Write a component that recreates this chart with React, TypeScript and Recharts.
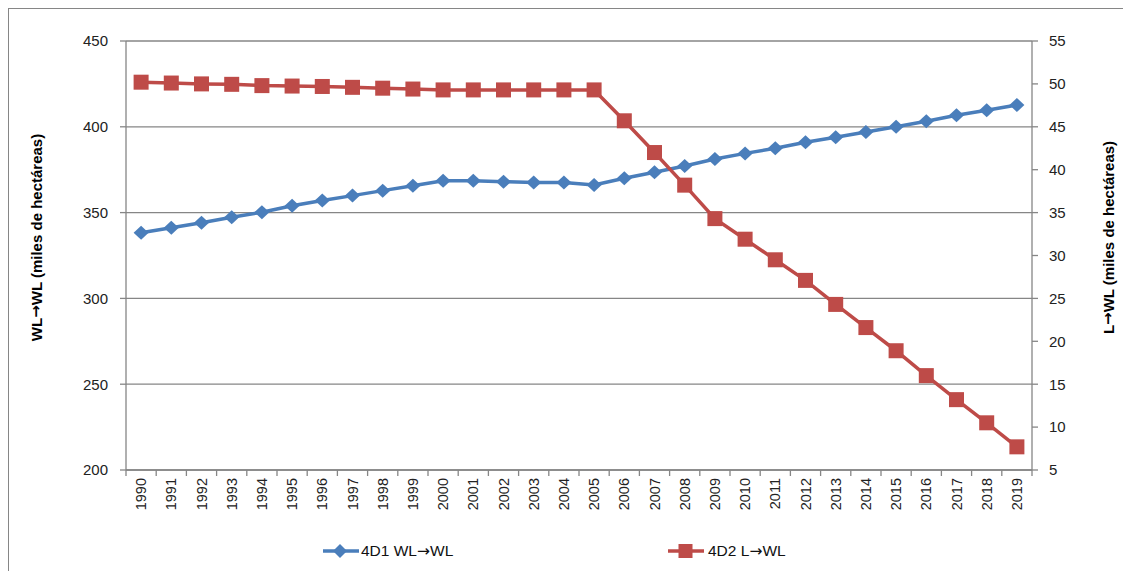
import React from "react";
import { LineChart, Line, XAxis, YAxis, CartesianGrid, Legend } from "recharts";

const years = [
  "1990", "1991", "1992", "1993", "1994", "1995", "1996", "1997", "1998", "1999",
  "2000", "2001", "2002", "2003", "2004", "2005", "2006", "2007", "2008", "2009",
  "2010", "2011", "2012", "2013", "2014", "2015", "2016", "2017", "2018", "2019",
];

// 4D1 WL->WL, left axis
const wlToWl = [
  338.2, 341.2, 344.1, 347.3, 350.2, 354.0, 357.0, 359.9, 362.8, 365.7,
  368.6, 368.6, 368.0, 367.6, 367.6, 366.1, 370.0, 373.5, 377.2, 381.2,
  384.5, 387.5, 391.0, 393.9, 397.0, 400.0, 403.2, 406.7, 409.6, 412.7,
];

// 4D2 L->WL, right axis
const lToWl = [
  50.2, 50.1, 50.0, 49.95, 49.8, 49.75, 49.7, 49.6, 49.5, 49.4,
  49.3, 49.3, 49.3, 49.3, 49.3, 49.3, 45.7, 42.0, 38.2, 34.3,
  31.9, 29.5, 27.1, 24.3, 21.6, 18.9, 16.0, 13.2, 10.5, 7.7,
];

const leftTicks = [200, 250, 300, 350, 400, 450];
const rightTicks = [5, 10, 15, 20, 25, 30, 35, 40, 45, 50, 55];

// [before arrow, after arrow]
const seriesNames = [["4D1 WL", "WL"], ["4D2 L", "WL"]];
const leftTitle = ["WL", "WL (miles de hect\u00e1reas)"];
const rightTitle = ["L", "WL (miles de hect\u00e1reas)"];

const data = years.map((year, i) => ({ year, wl: wlToWl[i], lwl: lToWl[i] }));

const BLUE = "#4A7EBB";
const RED = "#BE4B48";
const GREY = "#868686";
const FONT = "'Liberation Sans', Arial, sans-serif";
const ARROW_FONT = "'DejaVu Sans', sans-serif";

const Diamond = (props: any) => {
  const { cx, cy } = props;
  if (cx == null || cy == null) return null;
  return (
    <path
      d={`M${cx},${cy - 7} L${cx + 7.5},${cy} L${cx},${cy + 7} L${cx - 7.5},${cy} Z`}
      fill={BLUE}
    />
  );
};

const Square = (props: any) => {
  const { cx, cy } = props;
  if (cx == null || cy == null) return null;
  return <rect x={cx - 7.5} y={cy - 7.5} width={15} height={15} fill={RED} />;
};

// year label, with Excel-style tick marks between the categories
const YearTick = (props: any) => {
  const { x, y, payload, index, visibleTicksCount } = props;
  const half = payload.offset || 0;
  const top = y - 8;
  const last = index === visibleTicksCount - 1;
  return (
    <g>
      <line x1={x - half} y1={top} x2={x - half} y2={top + 6} stroke={GREY} strokeWidth={1.3} />
      {last && <line x1={x + half} y1={top} x2={x + half} y2={top + 6} stroke={GREY} strokeWidth={1.3} />}
      <text
        x={x}
        y={y}
        transform={`rotate(-90 ${x} ${y})`}
        textAnchor="end"
        dominantBaseline="central"
        fontFamily={FONT}
        fontSize={14.5}
        fill="#222"
      >
        {payload.value}
      </text>
    </g>
  );
};

const AxisTitle = ({ viewBox, value, dx }: any) => {
  const x = viewBox.x + dx;
  const y = viewBox.y + viewBox.height / 2 - 18;
  return (
    <text
      x={x}
      y={y}
      transform={`rotate(-90 ${x} ${y})`}
      textAnchor="middle"
      dominantBaseline="central"
      fontFamily={FONT}
      fontWeight="bold"
      fontSize={15}
      fill="#000"
    >
      {value[0]}
      <tspan fontFamily={ARROW_FONT}>{"\u2192"}</tspan>
      {value[1]}
    </text>
  );
};

const LegendIcon = ({ color, square }: { color: string; square?: boolean }) => (
  <svg width={36} height={16} style={{ display: "block" }}>
    <line x1={0} y1={8} x2={36} y2={8} stroke={color} strokeWidth={3.5} strokeLinecap="round" />
    {square ? (
      <rect x={10.5} y={1} width={14} height={14} fill={color} />
    ) : (
      <path d="M17,1 L24,8 L17,15 L10,8 Z" fill={color} />
    )}
  </svg>
);

const LegendText = ({ parts }: { parts: string[] }) => (
  <span>
    {parts[0]}
    <span style={{ fontFamily: ARROW_FONT }}>{"\u2192"}</span>
    {parts[1]}
  </span>
);

const ChartLegend = () => (
  <div style={{ position: "relative", width: 1122, height: 30, fontFamily: FONT, fontSize: 15.5, color: "#111" }}>
    <div style={{ position: "absolute", left: 314, top: 7, display: "flex", alignItems: "center", gap: 2 }}>
      <LegendIcon color={BLUE} />
      <LegendText parts={seriesNames[0]} />
    </div>
    <div style={{ position: "absolute", left: 659, top: 7, display: "flex", alignItems: "center", gap: 4 }}>
      <LegendIcon color={RED} square />
      <LegendText parts={seriesNames[1]} />
    </div>
  </div>
);

export default function App() {
  const tickStyle = { fontFamily: FONT, fontSize: 15, fill: "#222" };
  return (
    <div
      style={{
        width: 1123,
        height: 563,
        borderTop: `1px solid ${GREY}`,
        borderLeft: `1px solid ${GREY}`,
        background: "#fff",
      }}
    >
      <LineChart width={1122} height={561} data={data} margin={{ top: 32, right: 0, left: 37, bottom: 5 }}>
        <CartesianGrid yAxisId="left" vertical={false} stroke={GREY} strokeWidth={1.3} />
        <XAxis
          dataKey="year"
          scale="band"
          interval={0}
          tickLine={false}
          tickSize={0}
          tickMargin={8}
          height={65}
          stroke={GREY}
          strokeWidth={1.3}
          tick={<YearTick />}
        />
        <YAxis
          yAxisId="left"
          domain={[200, 450]}
          ticks={leftTicks}
          width={80}
          tickSize={6}
          tickMargin={12}
          stroke={GREY}
          strokeWidth={1.3}
          tick={tickStyle}
          label={<AxisTitle value={leftTitle} dx={-10} />}
        />
        <YAxis
          yAxisId="right"
          orientation="right"
          domain={[5, 55]}
          ticks={rightTicks}
          width={99}
          tickSize={6}
          tickMargin={11}
          stroke={GREY}
          strokeWidth={1.3}
          tick={tickStyle}
          label={<AxisTitle value={rightTitle} dx={76} />}
        />
        <Line
          yAxisId="left"
          dataKey="wl"
          name="4D1 WL-WL"
          stroke={BLUE}
          strokeWidth={3.5}
          dot={<Diamond />}
          activeDot={false}
          isAnimationActive={false}
        />
        <Line
          yAxisId="right"
          dataKey="lwl"
          name="4D2 L-WL"
          stroke={RED}
          strokeWidth={3.5}
          dot={<Square />}
          activeDot={false}
          isAnimationActive={false}
        />
        <Legend verticalAlign="bottom" content={<ChartLegend />} wrapperStyle={{ left: 0 }} />
      </LineChart>
    </div>
  );
}
